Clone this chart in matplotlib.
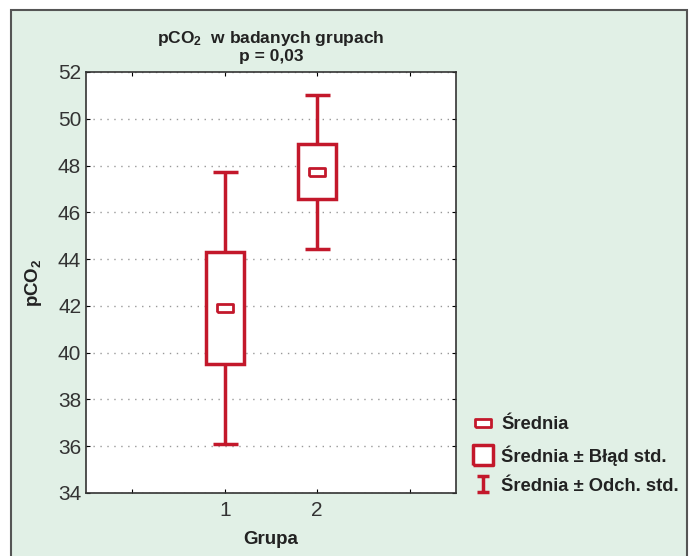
import matplotlib
matplotlib.use("Agg")
import matplotlib.pyplot as plt
from matplotlib.lines import Line2D
from matplotlib.patches import Rectangle
from matplotlib.path import Path

# data
groups = [1, 2]
means = [41.9, 47.73]
se = [2.39, 1.18]     # mean +- standard error (box)
sd = [5.82, 3.28]     # mean +- standard deviation (whiskers)

red = "#c3182b"
bg = "#e1f0e6"

plt.rcParams["font.family"] = ["Liberation Sans", "DejaVu Sans"]
plt.rcParams["mathtext.default"] = "regular"

fig = plt.figure(figsize=(6.91, 5.56), dpi=100)
fig.patch.set_facecolor("white")
# green panel with grey border
fig.add_artist(Rectangle((11 / 691, -0.01), (687 - 11) / 691, 1 - 10 / 556 + 0.01,
                         transform=fig.transFigure, facecolor=bg,
                         edgecolor="#555555", lw=1.5, zorder=-10))

ax = fig.add_axes([86 / 691, 1 - 493 / 556, (456 - 86) / 691, (493 - 72) / 556])
ax.set_facecolor("white")

ax.errorbar(groups, means, yerr=sd, fmt="none", ecolor=red, elinewidth=2.5,
            capsize=9, capthick=2.5, zorder=2)
ax.bar(groups, [2 * s for s in se], bottom=[m - s for m, s in zip(means, se)],
       width=0.41, facecolor="white", edgecolor=red, linewidth=2.5, zorder=3)

rect_marker = Path([(-1, -0.5), (1, -0.5), (1, 0.5), (-1, 0.5), (-1, -0.5)])
ax.plot(groups, means, linestyle="none", marker=rect_marker, markersize=12,
        markerfacecolor="white", markeredgecolor=red, markeredgewidth=2, zorder=4)

ax.set_xlim(-0.5, 3.5)
ax.set_ylim(34, 52)
ax.set_yticks(range(34, 53, 2))
ax.set_xticks([0, 1, 2, 3])
ax.set_xticklabels(["", "1", "2", ""])
ax.tick_params(axis="x", direction="in", length=3, labelsize=15, top=True, pad=6,
               labelcolor="#333333")
ax.tick_params(axis="y", direction="in", length=3, labelsize=15, right=True,
               labelcolor="#333333")
ax.yaxis.grid(True, linestyle=(0, (1, 4)), color="#999999", linewidth=1)
for sp in ax.spines.values():
    sp.set_color("#333333")
    sp.set_linewidth(1.2)

ax.set_xlabel("Grupa", fontsize=13.5, fontweight="bold", color="#222222", labelpad=8)
ax.set_ylabel("pCO$_2$", fontsize=13.5, fontweight="bold", color="#222222", labelpad=10)
ax.set_title("pCO$_2$  w badanych grupach\np = 0,03", fontsize=12.5,
             fontweight="bold", color="#222222", pad=8, linespacing=1.1)

# legend
sq_marker = Path([(-1, -1), (1, -1), (1, 1), (-1, 1), (-1, -1)])
i_marker = Path([(-0.7, 1), (0.7, 1), (0, 1), (0, -1), (-0.7, -1), (0.7, -1)],
                [Path.MOVETO, Path.LINETO, Path.MOVETO, Path.LINETO,
                 Path.MOVETO, Path.LINETO])
handles = [
    Line2D([], [], linestyle="none", marker=rect_marker, markersize=12,
           markerfacecolor="white", markeredgecolor=red, markeredgewidth=2),
    Line2D([], [], linestyle="none", marker=sq_marker, markersize=15,
           markerfacecolor="white", markeredgecolor=red, markeredgewidth=2.5),
    Line2D([], [], linestyle="none", marker=i_marker, markersize=12,
           markerfacecolor="none", markeredgecolor=red, markeredgewidth=2.5),
]
labels = ["Średnia", "Średnia ± Błąd std.", "Średnia ± Odch. std."]
leg = fig.legend(handles, labels, loc="upper left", bbox_to_anchor=(457 / 691, 1 - 400 / 556),
                 frameon=False, prop={"weight": "bold", "size": 13.2},
                 handletextpad=0.5, labelspacing=0.65, handlelength=1.0)
for t in leg.get_texts():
    t.set_color("#222222")

fig.savefig("out.png", dpi=100)
